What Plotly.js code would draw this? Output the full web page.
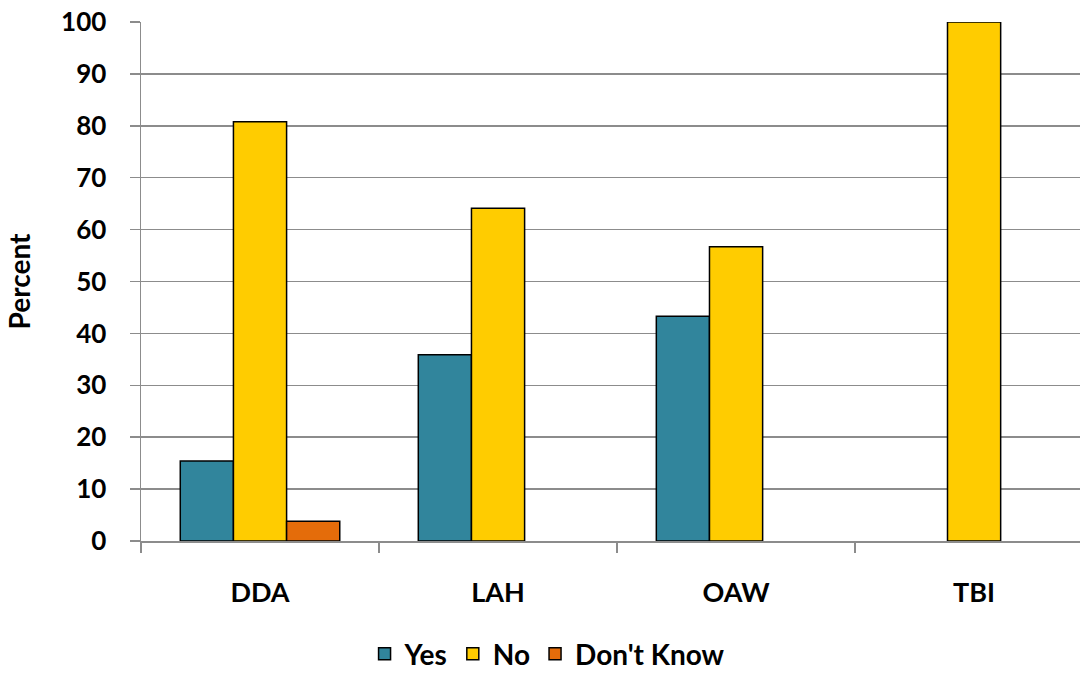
<!DOCTYPE html>
<html>
<head>
<meta charset="utf-8">
<script src="https://cdn.plot.ly/plotly-3.0.1.min.js"></script>
<style>html,body{margin:0;padding:0;background:#fff;}#chart{width:1080px;height:679px;}</style>
</head>
<body>
<div id="chart"></div>
<script>
const categories = ["DDA", "LAH", "OAW", "TBI"];
const yesValues = [15.4, 35.9, 43.3, null];
const noValues = [80.8, 64.1, 56.7, 100];
const dontKnowValues = [3.8, null, null, null];
const seriesNames = ["Yes", "No", "Don't Know"];
const seriesColors = ["#31859C", "#FFCC00", "#E46C0A"];
const yTicks = [0, 10, 20, 30, 40, 50, 60, 70, 80, 90, 100];

const FONT = "Lato, 'Open Sans', sans-serif";
const gridColor = "#8c8c8c";

const data = [yesValues, noValues, dontKnowValues].map((vals, i) => ({
  type: "bar",
  name: seriesNames[i],
  x: categories,
  y: vals,
  marker: { color: seriesColors[i], line: { color: "#000", width: 1.5 } },
  hoverinfo: "x+y+name"
}));

const layout = {
  width: 1080,
  height: 679,
  margin: { l: 141, r: 0, t: 22, b: 138, pad: 0 },
  paper_bgcolor: "#fff",
  plot_bgcolor: "#fff",
  barmode: "group",
  bargap: 0.33,
  bargroupgap: 0,
  showlegend: true,
  legend: {
    orientation: "h",
    xref: "container", yref: "container",
    x: 0.507, xanchor: "center",
    y: 0, yanchor: "bottom",
    font: { family: FONT, size: 28, color: "#000", weight: "bold" },
    itemwidth: 30,
    traceorder: "normal"
  },
  xaxis: {
    type: "category",
    range: [-0.5, 3.445],
    showgrid: false,
    showline: true, linecolor: gridColor, linewidth: 1.5,
    ticks: "outside", tickson: "boundaries", ticklen: 10, tickcolor: gridColor, tickwidth: 1.5,
    ticklabelstandoff: 27,
    tickfont: { family: FONT, size: 27, color: "#000", weight: "bold" },
    zeroline: false,
    fixedrange: true
  },
  yaxis: {
    range: [0, 100],
    tickvals: yTicks,
    showgrid: true, gridcolor: gridColor, gridwidth: 1.5,
    showline: true, linecolor: gridColor, linewidth: 1.5,
    ticks: "outside", ticklen: 10, tickcolor: gridColor, tickwidth: 1.5,
    ticklabelstandoff: 18,
    tickfont: { family: FONT, size: 26, color: "#000", weight: "bold" },
    zeroline: false,
    title: { text: "Percent", font: { family: FONT, size: 28, color: "#000", weight: "bold" }, standoff: 22 },
    fixedrange: true
  }
};

Plotly.newPlot("chart", data, layout, { displayModeBar: false, staticPlot: true });
</script>
</body>
</html>
